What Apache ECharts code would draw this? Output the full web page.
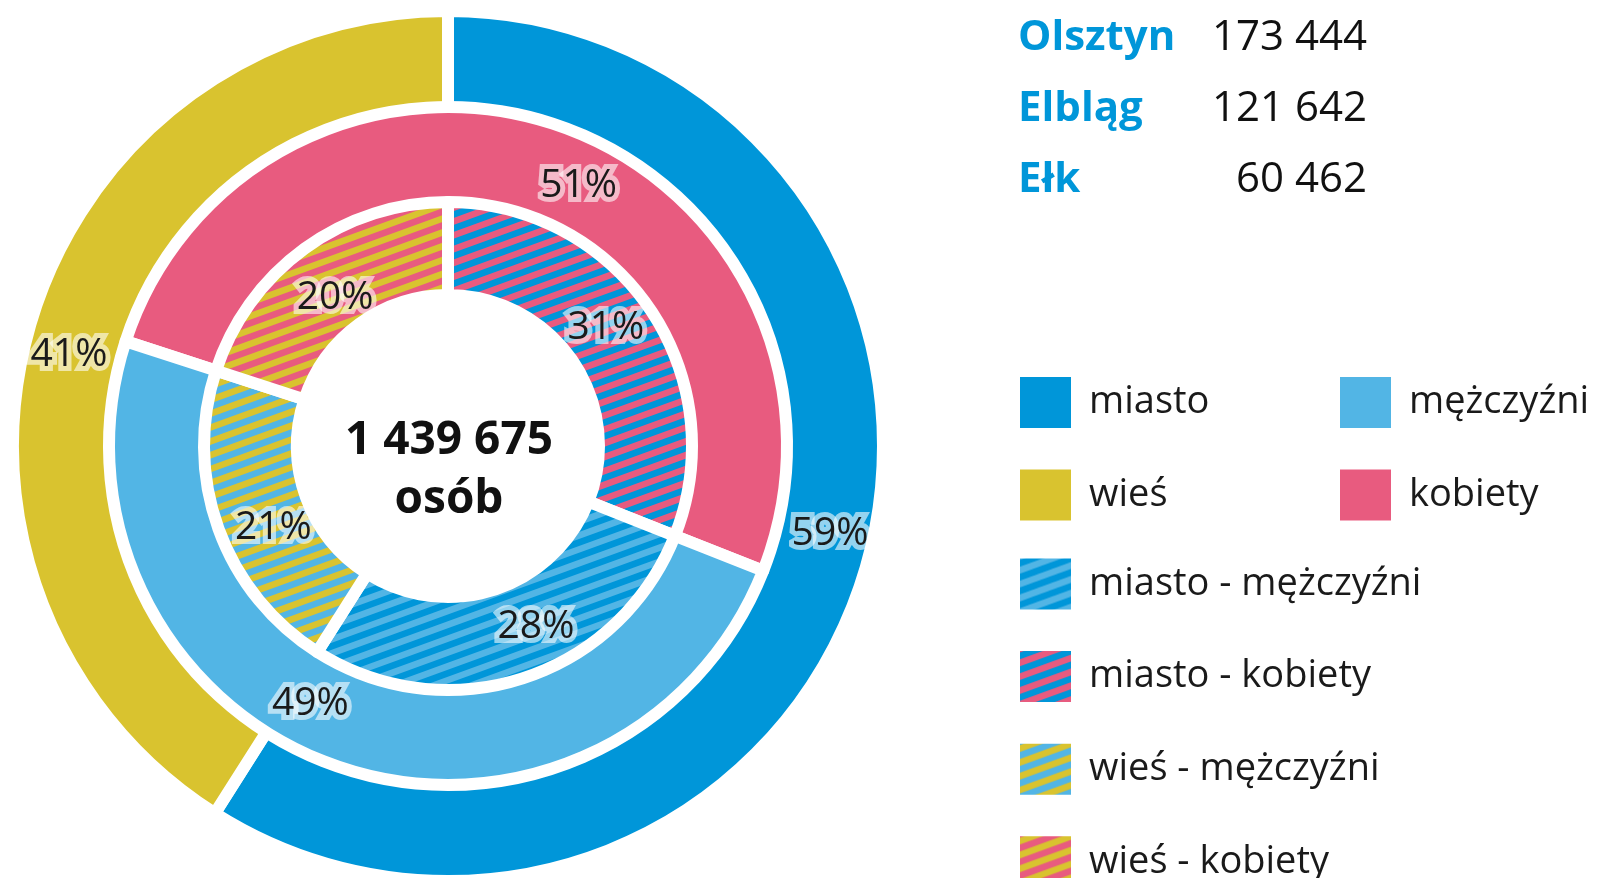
<!DOCTYPE html>
<html lang="pl">
<head>
    <meta charset="utf-8">
    <title>Ludność</title>
    <script src="https://cdn.jsdelivr.net/npm/echarts@6/dist/echarts.min.js"></script>
    <style>
        html, body { margin: 0; padding: 0; background: #fff; }
    </style>
</head>
<body>
<div id="main" style="width: 1599px;height:878px;"></div>
<script type="text/javascript">
    // dane
    var outerNames = ['miasto', 'wieś'];
    var outerValues = [59, 41];
    var middleNames = ['kobiety', 'mężczyźni'];
    var middleValues = [51, 49];
    var innerNames = ['miasto - kobiety', 'miasto - mężczyźni', 'wieś - mężczyźni', 'wieś - kobiety'];
    var innerValues = [31, 28, 21, 20];
    var cities = ['Olsztyn', 'Elbląg', 'Ełk'];
    var cityPopulation = ['173 444', '121 642', '60 462'];
    var totalText = '1 439 675';
    var totalUnit = 'osób';

    // przesunięcia etykiet (px) względem środka wycinka: [seria][indeks]
    var labelShift = [
        [[8, -21], [-5, 18]],
        [[31, 17], [-38, -19]],
        [[-8, -5], [26, -10], [14, 14], [5, 14]]
    ];

    var BLUE = '#0096d9', YELLOW = '#d9c32f', LIGHTBLUE = '#52b5e5', PINK = '#e85b7f';
    var FONT = '"Open Sans", "Noto Sans", sans-serif';

    // paski (wzór)
    function stripes(bg, fg) {
        var c = document.createElement('canvas');
        c.width = 1599; c.height = 878;
        var g = c.getContext('2d');
        g.fillStyle = bg;
        g.fillRect(0, 0, c.width, c.height);
        g.rotate(-20 * Math.PI / 180);
        g.fillStyle = fg;
        var period = 13;
        for (var y = -2500; y < 2500; y += period) {
            g.fillRect(-2500, y, 6000, period / 2);
        }
        return { image: c, repeat: 'repeat' };
    }
    var innerColors = [
        stripes(BLUE, PINK),
        stripes(BLUE, LIGHTBLUE),
        stripes(YELLOW, LIGHTBLUE),
        stripes(YELLOW, PINK)
    ];

    function items(names, values, colors) {
        var arr = [];
        for (var i = 0; i < names.length; i++) {
            arr.push({ name: names[i], value: values[i], itemStyle: { color: colors[i] } });
        }
        return arr;
    }

    var label = {
        show: true,
        position: 'inside',
        formatter: '{c}%',
        fontFamily: FONT,
        fontSize: 39,
        color: '#1a1a1a',
        textBorderColor: 'rgba(255,255,255,0.58)',
        textBorderWidth: 10
    };
    var itemStyle = { borderColor: '#fff', borderWidth: 12 };

    function shiftLabel(params) {
        var s = labelShift[params.seriesIndex][params.dataIndex];
        return { dx: s[0], dy: s[1] };
    }

    var graphics = [
        { type: 'text', x: 449, y: 441, style: { text: totalText, align: 'center', verticalAlign: 'middle', font: 'bold 46px ' + FONT, fill: '#111' } },
        { type: 'text', x: 449, y: 500, style: { text: totalUnit, align: 'center', verticalAlign: 'middle', font: 'bold 46px ' + FONT, fill: '#111' } }
    ];
    for (var i = 0; i < cities.length; i++) {
        graphics.push({ type: 'text', x: 1018, y: 38 + i * 71, style: { text: cities[i], font: 'bold 42px ' + FONT, fill: BLUE, verticalAlign: 'middle' } });
        graphics.push({ type: 'text', x: 1367, y: 38 + i * 71, style: { text: cityPopulation[i], font: '42px ' + FONT, fill: '#111', align: 'right', verticalAlign: 'middle' } });
    }

    var legendBase = {
        orient: 'vertical',
        icon: 'rect',
        itemWidth: 53,
        itemHeight: 53,
        itemGap: 37.6,
        padding: 0,
        height: 500,
        selectedMode: false,
        textStyle: { fontFamily: FONT, fontSize: 38, color: '#1a1a1a', padding: [0, 0, 0, 12] }
    };

    var myChart = echarts.init(document.getElementById('main'));
    var option = {
        animation: false,
        legend: [
            Object.assign({}, legendBase, { left: 1018, top: 375, data: ['miasto', 'wieś'] }),
            Object.assign({}, legendBase, { left: 1338, top: 375, data: ['mężczyźni', 'kobiety'] }),
            Object.assign({}, legendBase, { left: 1018, top: 556.5, data: ['miasto - mężczyźni', 'miasto - kobiety', 'wieś - mężczyźni', 'wieś - kobiety'] })
        ],
        graphic: graphics,
        series: [
            {
                type: 'pie', center: [448, 446], radius: [338, 435], startAngle: 90, clockwise: true,
                label: label, labelLine: { show: false }, labelLayout: shiftLabel, itemStyle: itemStyle, emphasis: { disabled: true },
                data: items(outerNames, outerValues, [BLUE, YELLOW])
            },
            {
                type: 'pie', center: [448, 446], radius: [243, 339], startAngle: 162, clockwise: true,
                label: label, labelLine: { show: false }, labelLayout: shiftLabel, itemStyle: itemStyle, emphasis: { disabled: true },
                data: items(middleNames, middleValues, [PINK, LIGHTBLUE])
            },
            {
                type: 'pie', center: [448, 446], radius: [151, 244], startAngle: 90, clockwise: true,
                label: label, labelLine: { show: false }, labelLayout: shiftLabel, itemStyle: itemStyle, emphasis: { disabled: true },
                data: items(innerNames, innerValues, innerColors)
            }
        ]
    };

    myChart.setOption(option);
</script>
</body>
</html>
